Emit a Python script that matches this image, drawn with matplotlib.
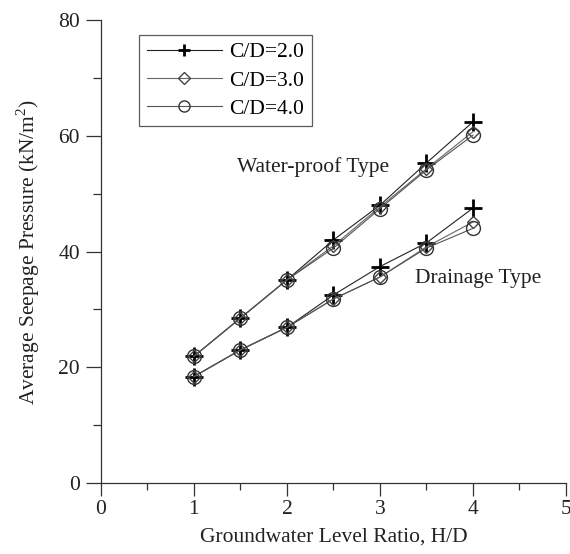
import numpy as np
import matplotlib.pyplot as plt

plt.rcParams['font.family'] = ['Liberation Serif', 'DejaVu Serif']
plt.rcParams['mathtext.fontset'] = 'custom'
plt.rcParams['mathtext.rm'] = 'Liberation Serif'

hd = [1.0, 1.5, 2.0, 2.5, 3.0, 3.5, 4.0]

# water-proof type
wp_cd2 = [21.9, 28.5, 35.1, 42.0, 48.0, 55.3, 62.4]
wp_cd3 = [21.9, 28.5, 35.1, 41.0, 47.7, 54.3, 60.7]
wp_cd4 = [21.9, 28.5, 35.1, 40.6, 47.4, 54.1, 60.1]

# drainage type
dr_cd2 = [18.4, 23.0, 26.9, 32.5, 37.4, 41.5, 47.5]
dr_cd3 = [18.4, 23.0, 26.9, 31.8, 35.6, 40.8, 45.1]
dr_cd4 = [18.4, 23.0, 26.9, 31.8, 35.6, 40.6, 44.0]

labels = ['C/D=2.0', 'C/D=3.0', 'C/D=4.0']

fig = plt.figure(figsize=(5.7, 5.54), dpi=100)
ax = fig.add_axes([0.177, 0.128, 0.816, 0.836])

styles = [
    dict(marker='+', ms=13, mew=2.0, mec='black', color='#222222', lw=0.8),
    dict(marker='D', ms=6, mew=1.0, mec='#444444', mfc='none', color='#666666', lw=0.8),
    dict(marker='o', ms=10, mew=1.0, mec='#333333', mfc='none', color='#555555', lw=0.8),
]

for ys, st, lab in zip([wp_cd2, wp_cd3, wp_cd4], styles, labels):
    ax.plot(hd, ys, label=lab, **st)
for ys, st in zip([dr_cd2, dr_cd3, dr_cd4], styles):
    ax.plot(hd, ys, **st)

ax.text(1.466, 54.6, 'Water-proof Type', fontsize=15.5, va='center', ha='left', color='#222222')
ax.text(3.38, 35.4, 'Drainage Type', fontsize=15.5, va='center', ha='left', color='#222222')

ax.set_xlim(0, 5)
ax.set_ylim(0, 80)
ax.set_xticks(np.arange(0, 6, 1))
ax.set_xticks(np.arange(0.5, 5, 1), minor=True)
ax.set_yticks(np.arange(0, 81, 20))
ax.set_yticks(np.arange(10, 80, 20), minor=True)

ax.spines['top'].set_visible(False)
ax.spines['right'].set_visible(False)
for s in ['left', 'bottom']:
    ax.spines[s].set_color('#333333')
    ax.spines[s].set_linewidth(0.9)

ax.tick_params(axis='y', which='major', direction='out', length=11, width=0.9, labelsize=15.5, pad=4, color='#333333', labelcolor='#222222')
ax.tick_params(axis='y', which='minor', direction='out', length=5.5, width=0.9, color='#333333')
ax.tick_params(axis='x', which='major', direction='out', length=9.5, width=0.9, labelsize=15.5, pad=3, color='#333333', labelcolor='#222222')
ax.tick_params(axis='x', which='minor', direction='out', length=5, width=0.9, color='#333333')

ax.set_xlabel('Groundwater Level Ratio, H/D', fontsize=15.5, labelpad=6, color='#222222')
ax.set_ylabel('Average Seepage Pressure (kN/m$^2$)', fontsize=15.5, labelpad=12, color='#222222')

leg = ax.legend(loc='upper left', bbox_to_anchor=(0.082, 0.968), borderaxespad=0, fontsize=15.5,
                frameon=True, fancybox=False, edgecolor='#333333',
                handlelength=3.5, borderpad=0.35, labelspacing=0.38, handletextpad=0.35)
leg.get_frame().set_linewidth(0.9)
for h, ms in zip(leg.legend_handles, [9, 6, 8]):
    h.set_markersize(ms)

fig.savefig('out.png', dpi=100)
